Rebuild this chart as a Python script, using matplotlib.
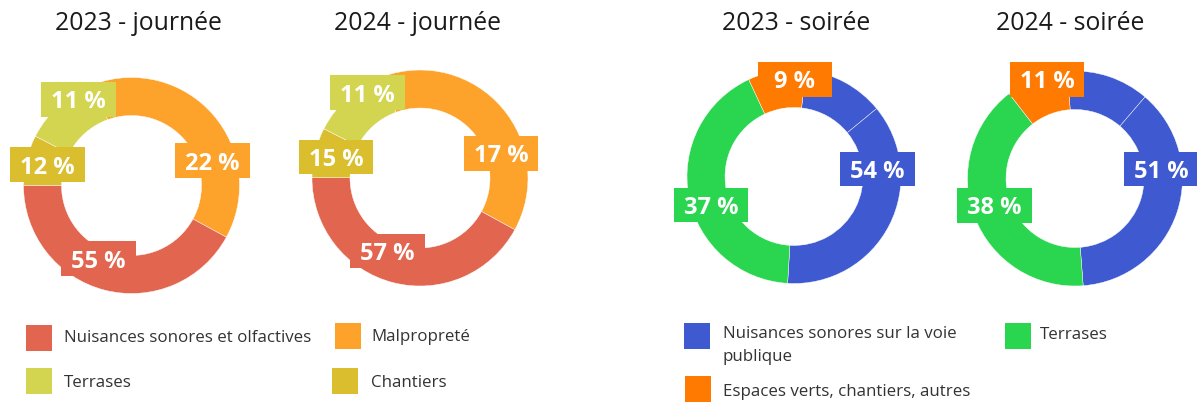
import matplotlib
matplotlib.use("Agg")
import matplotlib.pyplot as plt
from matplotlib.patches import Rectangle

# ---------------- data ----------------
jour_categories = ["Malpropreté", "Nuisances sonores et olfactives", "Chantiers", "Terrasses"]
jour_shares_2023 = [38.5, 42.1, 7.5, 11.9]
jour_shares_2024 = [38.5, 42.1, 7.5, 11.9]
jour_labels_2023 = ["22 %", "55 %", "12 %", "11 %"]
jour_labels_2024 = ["17 %", "57 %", "15 %", "11 %"]

soir_categories = ["Nuisances sonores sur la voie publique", "Nuisances sonores sur la voie publique",
                   "Terrases", "Espaces verts, chantiers, autres"]
soir_shares_2023 = [12.3, 36.9, 42.1, 8.7]
soir_shares_2024 = [12.4, 37.5, 40.7, 9.4]
soir_labels_2023 = ["54 %", "37 %", "9 %"]
soir_labels_2024 = ["51 %", "38 %", "11 %"]

titles = ["2023 - journée", "2024 - journée", "2023 - soirée", "2024 - soirée"]

legend_jour = ["Nuisances sonores et olfactives", "Malpropreté", "Terrases", "Chantiers"]
legend_soir = ["Nuisances sonores sur la voie\npublique", "Terrases", "Espaces verts, chantiers, autres"]

# ---------------- style ----------------
RED = "#E2654F"
ORANGE = "#FDA22B"
LYEL = "#D3D44F"
DYEL = "#DBBE2E"
BLUE = "#3F59D1"
GREEN = "#2AD54F"
ORANGE2 = "#FF7A00"

jour_colors = [ORANGE, RED, DYEL, LYEL]
soir_colors = [BLUE, BLUE, GREEN, ORANGE2]

W, H = 1197, 403
plt.rcParams["font.family"] = ["Open Sans", "DejaVu Sans"]

fig = plt.figure(figsize=(W / 100, H / 100), dpi=100)
ax = fig.add_axes([0, 0, 1, 1])
ax.set_xlim(0, W)
ax.set_ylim(0, H)
ax.set_aspect("equal")
ax.axis("off")


def Y(y):
    return H - y


def donut(shares, colors, cx, cy, r_out, r_in, start_cw):
    ax.pie(shares, colors=colors, center=(cx, Y(cy)), radius=r_out,
           startangle=90 - start_cw, counterclock=False, frame=True,
           wedgeprops=dict(width=r_out - r_in, edgecolor="white", linewidth=0.3))


donut(jour_shares_2023, jour_colors, 131.5, 185.5, 108, 70, -20)
donut(jour_shares_2024, jour_colors, 420, 178, 108, 70, -20)
donut(soir_shares_2023, soir_colors, 794, 176.5, 107, 69, 6.3)
donut(soir_shares_2024, soir_colors, 1075, 178.5, 107.5, 69, -4)


def label_box(text, x0, y0, x1, y1, color):
    ax.add_patch(Rectangle((x0, Y(y1)), x1 - x0, y1 - y0, facecolor=color, edgecolor="none", zorder=5))
    ax.text((x0 + x1) / 2, Y((y0 + y1) / 2), text, color="white", fontsize=17, fontweight="bold",
            ha="center", va="center_baseline", zorder=6)


# label boxes (layout positions)
jour_boxes_2023 = [(175, 143, 250, 178), (61, 241, 136, 276), (10, 147, 85, 182), (41, 82, 116, 117)]
jour_boxes_2024 = [(464, 136, 538, 171), (350, 234, 425, 268), (299, 140, 373, 174), (330, 75, 405, 110)]
for lab, box, col in zip(jour_labels_2023, jour_boxes_2023, jour_colors):
    label_box(lab, *box, col)
for lab, box, col in zip(jour_labels_2024, jour_boxes_2024, jour_colors):
    label_box(lab, *box, col)

soir_boxes_2023 = [(840, 152, 915, 186), (674, 188, 748, 222), (758, 62, 832, 97)]
soir_boxes_2024 = [(1124, 152, 1199, 186), (957, 188, 1032, 223), (1010, 62, 1084, 97)]
soir_label_colors = [BLUE, GREEN, ORANGE2]
for lab, box, col in zip(soir_labels_2023, soir_boxes_2023, soir_label_colors):
    label_box(lab, *box, col)
for lab, box, col in zip(soir_labels_2024, soir_boxes_2024, soir_label_colors):
    label_box(lab, *box, col)

# titles
for t, x in zip(titles, [138, 417, 796, 1070]):
    ax.text(x, Y(21), t, fontsize=17.8, color="#1a1a1a", ha="center", va="center_baseline")

# legends
SQ = 26
def legend_item(text, sx, sy, tx, ty, color, va="center_baseline"):
    ax.add_patch(Rectangle((sx, Y(sy + SQ)), SQ, SQ, facecolor=color, edgecolor="none"))
    ax.text(tx, Y(ty), text, fontsize=12.2, color="#333333", ha="left", va=va, linespacing=1.6)

legend_item(legend_jour[0], 26, 325, 64, 336, RED)
legend_item(legend_jour[1], 335, 323, 371, 335, ORANGE)
legend_item(legend_jour[2], 26, 368, 64, 381, LYEL)
legend_item(legend_jour[3], 332, 368, 371, 381, DYEL)

legend_item(legend_soir[0], 684, 323, 723, 326, BLUE, va="top")
legend_item(legend_soir[1], 1005, 323, 1040, 333, GREEN)
legend_item(legend_soir[2], 685, 376, 723, 390, ORANGE2)

fig.savefig("out.png", dpi=100)
